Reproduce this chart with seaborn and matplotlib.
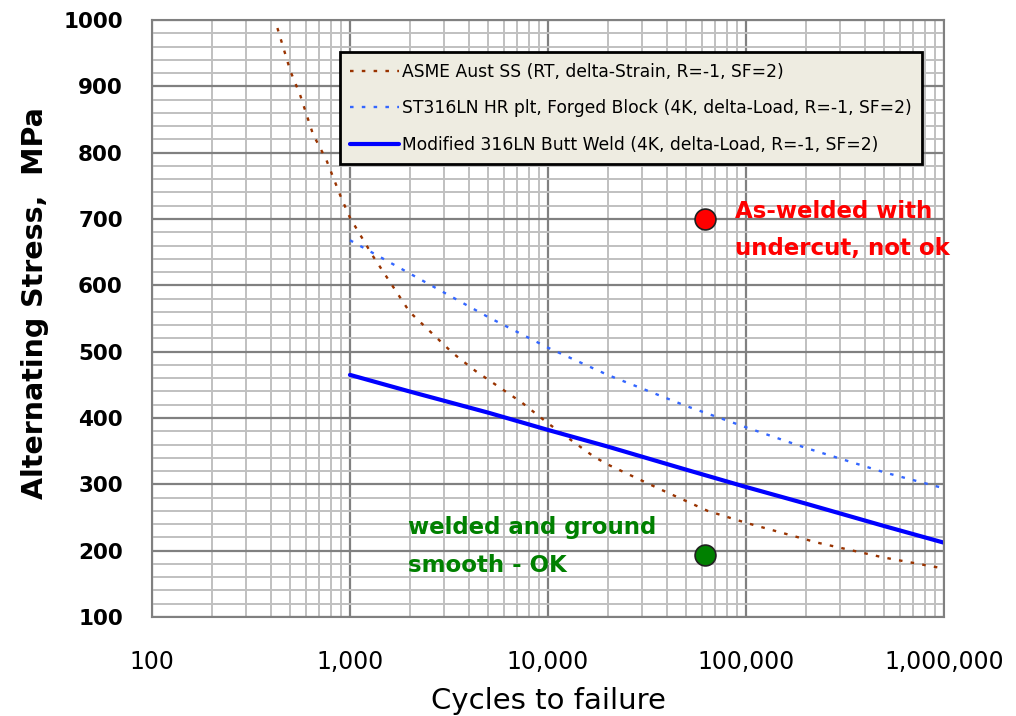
import numpy as np
import pandas as pd
import matplotlib
matplotlib.use("Agg")
import matplotlib.pyplot as plt
import matplotlib.ticker as mticker
import seaborn as sns

# curvas de fatiga
asme_n = [430, 500, 560, 650, 760, 900, 1000, 1300, 2000, 3300, 4300, 7400, 10000,
          17000, 20000, 36000, 64000, 100000, 230000, 490000, 1000000]
asme_s = [988, 923, 887, 828, 789, 733, 702, 645, 560, 498, 471, 423, 392,
          342, 330, 294, 260, 242, 212, 190, 173]

st_n = [1000, 2000, 5000, 10000, 20000, 50000, 100000, 200000, 500000, 1000000]
st_s = [668, 618, 552, 506, 465, 418, 386, 355, 318, 294]

weld_n = [1000, 2000, 5000, 10000, 20000, 50000, 100000, 200000, 500000, 1000000]
weld_s = [465, 440, 408, 382, 357, 322, 296, 271, 237, 212]

# puntos de ensayo
pt_n = [62000, 62000]
pt_s = [700, 193]
pt_col = ["#FF0000", "#008000"]

labels = ["ASME Aust SS (RT, delta-Strain, R=-1, SF=2)",
          "ST316LN HR plt, Forged Block (4K, delta-Load, R=-1, SF=2)",
          "Modified 316LN Butt Weld (4K, delta-Load, R=-1, SF=2)"]

sns.set_style("white")
plt.rcParams['font.family'] = ['DejaVu Sans']
plt.rcParams['text.color'] = 'black'
plt.rcParams['axes.labelcolor'] = 'black'
plt.rcParams['xtick.color'] = 'black'
plt.rcParams['ytick.color'] = 'black'

fig = plt.figure(figsize=(10.16, 7.16), dpi=100)
ax = fig.add_axes([0.1496, 0.1383, 0.7795, 0.8337])

df1 = pd.DataFrame({"n": asme_n, "s": asme_s})
df2 = pd.DataFrame({"n": st_n, "s": st_s})
df3 = pd.DataFrame({"n": weld_n, "s": weld_s})

sns.lineplot(data=df1, x="n", y="s", ax=ax, color="#993300", lw=1.7,
             linestyle=(0, (1.5, 3.5)), label=labels[0], sort=False)
sns.lineplot(data=df2, x="n", y="s", ax=ax, color="#3366FF", lw=1.7,
             linestyle=(0, (1.5, 3.5)), label=labels[1], sort=False)
sns.lineplot(data=df3, x="n", y="s", ax=ax, color="#0000FF", lw=3,
             label=labels[2], sort=False)

for n, s, c in zip(pt_n, pt_s, pt_col):
    ax.plot(n, s, 'o', ms=15, mfc=c, mec="#202020", mew=1.2, zorder=5)

ax.set_xscale("log")
ax.set_xlim(100, 1000000)
ax.set_ylim(100, 1000)
ax.yaxis.set_major_locator(mticker.MultipleLocator(100))
ax.yaxis.set_minor_locator(mticker.MultipleLocator(20))
ax.xaxis.set_major_locator(mticker.LogLocator(base=10))
ax.xaxis.set_minor_locator(mticker.LogLocator(base=10, subs=np.arange(2, 10)))
ax.xaxis.set_minor_formatter(mticker.NullFormatter())
ax.xaxis.set_major_formatter(mticker.FuncFormatter(lambda v, p: f"{int(round(v)):,}"))

ax.grid(which="minor", color="#C0C0C0", lw=1.4)
ax.grid(which="major", color="#808080", lw=1.6)
ax.set_axisbelow(True)
for sp in ax.spines.values():
    sp.set_color("#808080")
    sp.set_linewidth(1.5)

ax.tick_params(axis="both", which="both", length=0)
ax.tick_params(axis="x", pad=24, labelsize=17)
ax.tick_params(axis="y", pad=21, labelsize=15.5)
for t in ax.get_yticklabels():
    t.set_fontweight("bold")

ax.set_xlabel("Cycles to failure", fontsize=21, labelpad=9)
ax.set_ylabel("Alternating Stress,  MPa", fontsize=20.5, fontweight="bold")
ax.yaxis.set_label_coords(-0.13, 0.526)

leg = ax.legend(loc="upper left", bbox_to_anchor=(0.237, 0.946), borderaxespad=0,
                fontsize=12.3, frameon=True, fancybox=False, framealpha=1,
                borderpad=0.6, labelspacing=1.1, handlelength=2.9,
                handletextpad=0.15, labelcolor="black")
leg.get_frame().set_facecolor("#EEECE1")
leg.get_frame().set_edgecolor("black")
leg.get_frame().set_linewidth(2)

ax.text(87900, 729, "As-welded with\nundercut, not ok", color="#FF0000", fontsize=16.5,
        fontweight="bold", va="top", ha="left", linespacing=1.8, clip_on=False)
ax.text(1970, 252, "welded and ground\nsmooth - OK", color="#008000", fontsize=16.5,
        fontweight="bold", va="top", ha="left", linespacing=1.8)

fig.savefig("out.png", dpi=100)
